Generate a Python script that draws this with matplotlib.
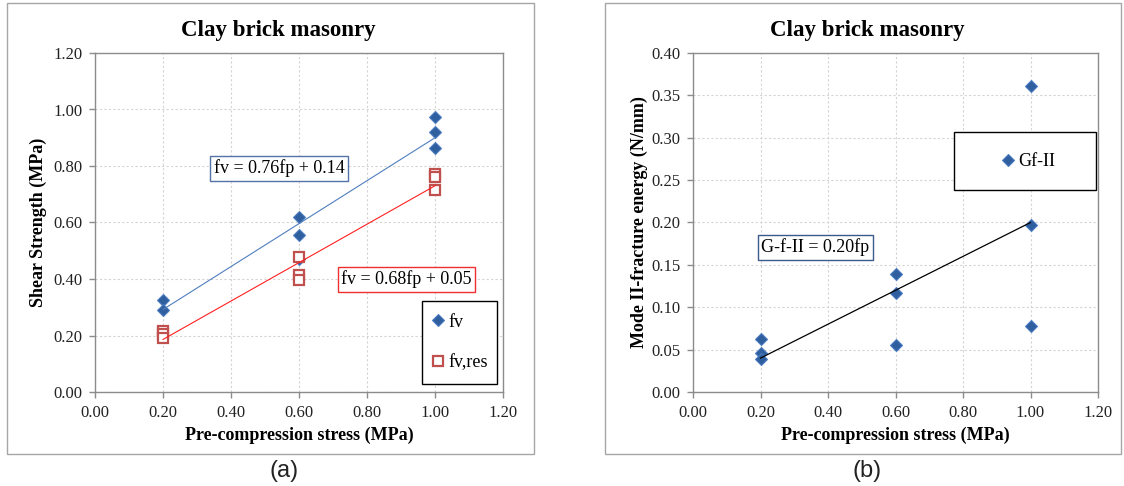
import matplotlib
matplotlib.use("Agg")
import matplotlib.pyplot as plt
from matplotlib.patches import Rectangle
from matplotlib.lines import Line2D
from matplotlib.ticker import FormatStrFormatter

plt.rcParams['font.family'] = ['Liberation Serif', 'DejaVu Serif']

# ---------------- data ----------------
# (a) shear strength
fp_fv = [0.2, 0.2, 0.6, 0.6, 0.6, 1.0, 1.0, 1.0]
fv = [0.325, 0.29, 0.62, 0.555, 0.47, 0.972, 0.919, 0.863]
fp_res = [0.2, 0.2, 0.2, 0.6, 0.6, 0.6, 1.0, 1.0, 1.0]
fv_res = [0.215, 0.205, 0.19, 0.477, 0.414, 0.397, 0.77, 0.76, 0.715]
fit_fv = (0.76, 0.14)
fit_res = (0.68, 0.05)
fit_range = [0.2, 1.0]

# (b) mode II fracture energy
fp_gf = [0.2, 0.2, 0.2, 0.6, 0.6, 0.6, 1.0, 1.0, 1.0]
gf = [0.062, 0.046, 0.039, 0.139, 0.117, 0.056, 0.361, 0.197, 0.078]
fit_gf = (0.20, 0.0)

x_ticks = [0.0, 0.2, 0.4, 0.6, 0.8, 1.0, 1.2]
y_ticks_a = [0.0, 0.2, 0.4, 0.6, 0.8, 1.0, 1.2]
y_ticks_b = [0.0, 0.05, 0.10, 0.15, 0.20, 0.25, 0.30, 0.35, 0.40]

title = "Clay brick masonry"
xlabel = "Pre-compression stress (MPa)"
ylabel_a = "Shear Strength (MPa)"
ylabel_b = "Mode II-fracture energy (N/mm)"

# ---------------- figure ----------------
W, H = 1124, 486
fig = plt.figure(figsize=(W / 100, H / 100), dpi=100)


def fx(px):
    return px / W


def fy(py):
    return 1 - py / H


def frame(x0, y0, x1, y1, color, lw=1.0, fill=False, z=0):
    fig.add_artist(Rectangle((fx(x0), fy(y1)), (x1 - x0) / W, (y1 - y0) / H,
                             transform=fig.transFigure, fill=fill, fc='white',
                             ec=color, lw=lw, zorder=z))


SPINE = '#8C8C8C'
BLUE_F = '#2F5F9F'
BLUE_E = '#4A7CC0'
RED = '#C0504D'
TICK_FS = 12
LABEL_FS = 13
EQ_FS = 13


def style(ax, yticks):
    ax.set_xlim(0, 1.2)
    ax.set_ylim(yticks[0], yticks[-1])
    ax.set_xticks(x_ticks)
    ax.set_yticks(yticks)
    ax.xaxis.set_major_formatter(FormatStrFormatter('%.2f'))
    ax.yaxis.set_major_formatter(FormatStrFormatter('%.2f'))
    for s in ax.spines.values():
        s.set_color(SPINE)
        s.set_linewidth(1.0)
    ax.tick_params(direction='out', length=4, width=1, color=SPINE,
                   labelsize=TICK_FS, labelcolor='#222222', pad=5)
    ax.grid(True, color='#D4D4D4', linestyle=(0, (2, 2)), linewidth=0.8)
    ax.set_axisbelow(True)


# ---- panel (a)
frame(7, 3, 534, 454, '#A6A6A6')
ax1 = fig.add_axes([fx(95), fy(392), (503 - 95) / W, (392 - 53) / H])
style(ax1, y_ticks_a)
ax1.plot(fp_fv, fv, linestyle='none', marker='D', markersize=6.3,
         markerfacecolor=BLUE_F, markeredgecolor=BLUE_E, markeredgewidth=0.8,
         zorder=3)
ax1.plot(fp_res, fv_res, linestyle='none', marker='s', markersize=6.5,
         markerfacecolor='white', markeredgecolor=RED, markeredgewidth=1.6,
         zorder=3)
ax1.plot(fit_range, [fit_fv[0] * x + fit_fv[1] for x in fit_range],
         color='#4F7FBF', lw=0.8, zorder=4)
ax1.plot(fit_range, [fit_res[0] * x + fit_res[1] for x in fit_range],
         color='#FF2020', lw=0.8, zorder=4)

fig.text(fx(278), fy(30), title, ha='center', va='center', fontsize=16.5,
         fontweight='bold')
fig.text(fx(299), fy(435), xlabel, ha='center', va='center',
         fontsize=LABEL_FS, fontweight='bold')
fig.text(fx(38), fy(222), ylabel_a, ha='center', va='center',
         fontsize=LABEL_FS, fontweight='bold', rotation=90)

fig.text(fx(279), fy(168.5), "fv = 0.76fp + 0.14", ha='center', va='center',
         fontsize=EQ_FS, zorder=6,
         bbox=dict(boxstyle='square,pad=0.2', fc='white', ec='#5472A8', lw=1))
fig.text(fx(406.5), fy(279.5), "fv = 0.68fp + 0.05", ha='center', va='center',
         fontsize=EQ_FS, zorder=6,
         bbox=dict(boxstyle='square,pad=0.2', fc='white', ec='#F03030', lw=1))

# legend (a)
frame(422, 301, 497, 384, 'black', lw=1.0, fill=True, z=5)
h1 = Line2D([], [], linestyle='none', marker='D', markersize=6.3,
            markerfacecolor=BLUE_F, markeredgecolor=BLUE_E, markeredgewidth=0.8)
h2 = Line2D([], [], linestyle='none', marker='s', markersize=6.5,
            markerfacecolor='white', markeredgecolor=RED, markeredgewidth=1.6)
leg1 = fig.legend([h1, h2], ['fv', 'fv,res'], loc='center',
                  bbox_to_anchor=(fx(460), fy(342.5)),
                  bbox_transform=fig.transFigure,
                  frameon=False, fontsize=EQ_FS, handlelength=0.6,
                  handletextpad=0.3, labelspacing=1.3, borderpad=0.2)
leg1.set_zorder(7)

fig.text(fx(284), fy(471), "(a)", ha='center', va='center', fontsize=17,
         family=['Liberation Sans', 'DejaVu Sans'], color='#222222')

# ---- panel (b)
frame(605, 3, 1121, 454, '#A6A6A6')
ax2 = fig.add_axes([fx(693), fy(392), (1098 - 693) / W, (392 - 53) / H])
style(ax2, y_ticks_b)
ax2.plot(fp_gf, gf, linestyle='none', marker='D', markersize=6.3,
         markerfacecolor=BLUE_F, markeredgecolor=BLUE_E, markeredgewidth=0.8,
         zorder=3)
ax2.plot(fit_range, [fit_gf[0] * x + fit_gf[1] for x in fit_range],
         color='black', lw=0.9, zorder=4)

fig.text(fx(867), fy(30), title, ha='center', va='center', fontsize=16.5,
         fontweight='bold')
fig.text(fx(895.5), fy(435), xlabel, ha='center', va='center',
         fontsize=LABEL_FS, fontweight='bold')
fig.text(fx(639), fy(222), ylabel_b, ha='center', va='center',
         fontsize=LABEL_FS, fontweight='bold', rotation=90)

fig.text(fx(815.5), fy(247.5), "G-f-II = 0.20fp", ha='center', va='center',
         fontsize=EQ_FS, zorder=6,
         bbox=dict(boxstyle='square,pad=0.2', fc='white', ec='#3A5A8C', lw=1))

frame(954, 132, 1096, 190, 'black', lw=1.0, fill=True, z=5)
h3 = Line2D([], [], linestyle='none', marker='D', markersize=6.3,
            markerfacecolor=BLUE_F, markeredgecolor=BLUE_E, markeredgewidth=0.8)
leg2 = fig.legend([h3], ['Gf-II'], loc='center',
                  bbox_to_anchor=(fx(1029), fy(162)),
                  bbox_transform=fig.transFigure,
                  frameon=False, fontsize=EQ_FS, handlelength=0.6,
                  handletextpad=0.3, borderpad=0.2)
leg2.set_zorder(7)

fig.text(fx(867), fy(471), "(b)", ha='center', va='center', fontsize=17,
         family=['Liberation Sans', 'DejaVu Sans'], color='#222222')

fig.savefig("out.png", dpi=100, facecolor='white')
